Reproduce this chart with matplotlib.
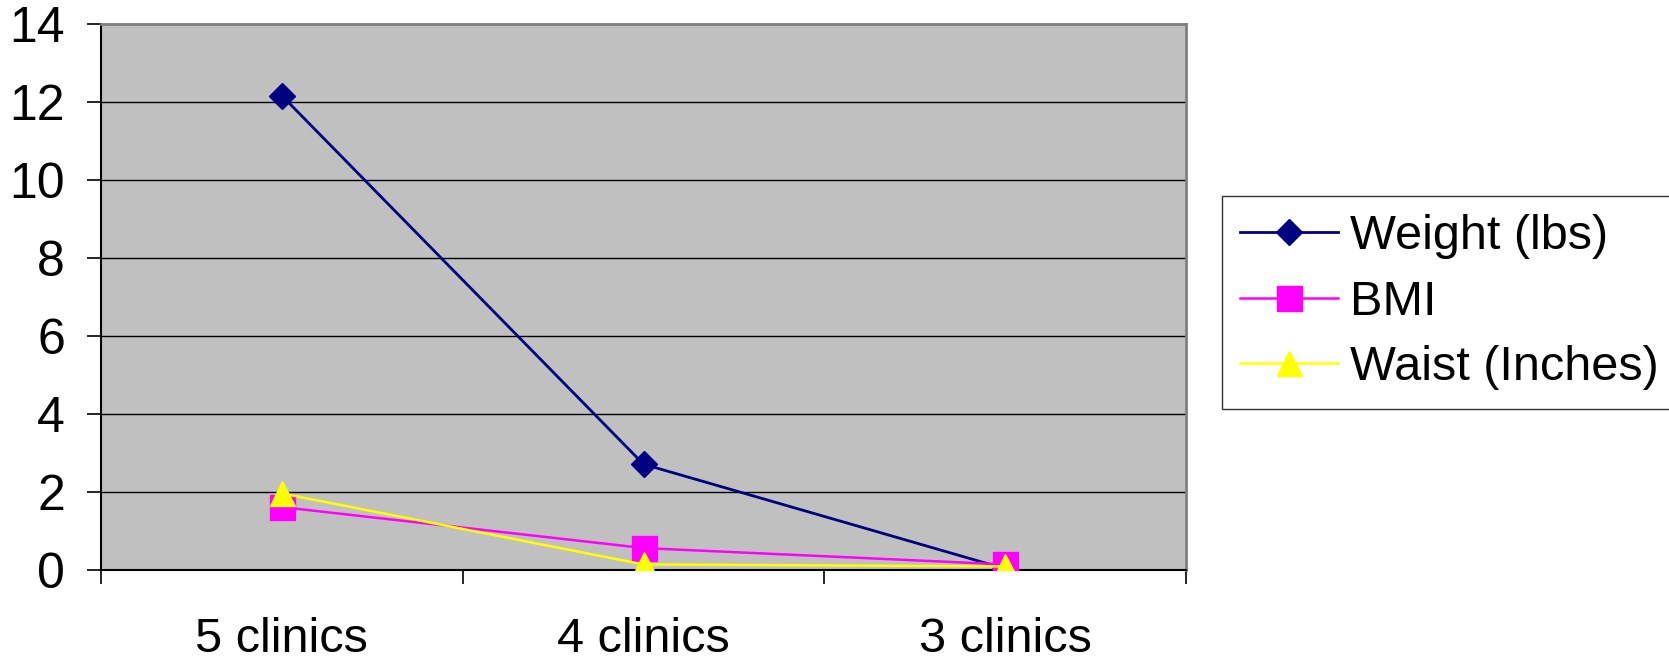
import matplotlib.pyplot as plt

plt.rcParams['font.family'] = ['Liberation Sans', 'DejaVu Sans']

# clinic groups along the x axis
clinics = ["5 clinics", "4 clinics", "3 clinics"]
weight = [12.15, 2.7, 0.02]   # lbs
bmi = [1.6, 0.55, 0.13]
waist = [1.95, 0.13, 0.08]    # inches

fig = plt.figure(figsize=(16.69, 6.6), dpi=100)
ax = fig.add_axes([101/1669, 1-569.5/660, (1186-101)/1669, (569.5-23.5)/660])
ax.set_facecolor('#c0c0c0')

xs = [1, 2, 3]
ax.plot(xs, weight, color='#000080', lw=2, marker='D', ms=13,
        label='Weight (lbs)', zorder=3)
ax.plot(xs, bmi, color='#ff00ff', lw=1.8, marker='s', ms=18,
        label='BMI', zorder=4)
ax.plot(xs, waist, color='#ffff00', lw=1.8, marker='^', ms=18,
        label='Waist (Inches)', zorder=5)

ax.set_xlim(0.5, 3.5)
ax.set_ylim(0, 14)
ax.set_yticks(range(0, 15, 2))
ax.yaxis.grid(True, color='black', lw=1)
ax.set_axisbelow(True)

# tick marks sit on category boundaries, labels at the centres
ax.set_xticks([0.5, 1.5, 2.5, 3.5])
ax.set_xticklabels([])
ax.set_xticks(xs, minor=True)
ax.set_xticklabels(clinics, minor=True)
ax.tick_params(axis='x', which='major', direction='out', length=10, width=1.2)
ax.tick_params(axis='x', which='minor', length=0, pad=34, labelsize=35)
ax.tick_params(axis='y', direction='out', length=10, width=1.2, pad=16,
               labelsize=36)

for s in ['left', 'bottom']:
    ax.spines[s].set_color('black')
    ax.spines[s].set_linewidth(1.5)
for s in ['top', 'right']:
    ax.spines[s].set_color('#808080')
    ax.spines[s].set_linewidth(2)

leg = fig.legend(loc='upper left', bbox_to_anchor=(1222/1669, 1-196/660),
                 fontsize=35, frameon=True, fancybox=False, edgecolor='black',
                 handlelength=2.0, handletextpad=0.25, labelspacing=0.42,
                 borderpad=0.38, borderaxespad=0)
leg.get_frame().set_linewidth(1)

fig.savefig('out.png', dpi=100)
